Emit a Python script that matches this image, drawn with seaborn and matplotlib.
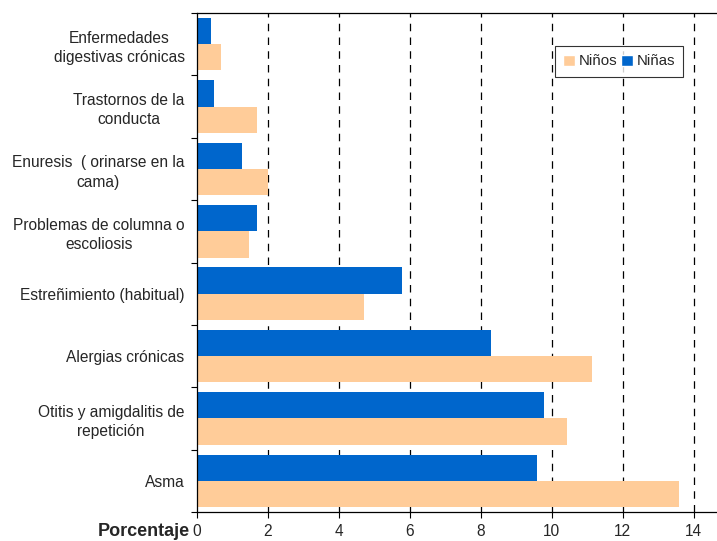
import pandas as pd
import numpy as np
import matplotlib
matplotlib.use("Agg")
import matplotlib.pyplot as plt
from matplotlib.patches import Patch
import seaborn as sns

# data (percent)
categorias = ["Enfermedades\ndigestivas crónicas",
              "Trastornos de la\nconducta",
              "Enuresis  ( orinarse en la\ncama)",
              "Problemas de columna o\nescoliosis",
              "Estreñimiento (habitual)",
              "Alergias crónicas",
              "Otitis y amigdalitis de\nrepetición",
              "Asma"]
ninas = [0.40, 0.49, 1.28, 1.70, 5.79, 8.30, 9.79, 9.58]
ninos = [0.68, 1.70, 2.01, 1.47, 4.72, 11.14, 10.43, 13.59]
xticks = [0, 2, 4, 6, 8, 10, 12, 14]

azul = "#0066CC"
melocoton = "#FFCC99"

df = pd.DataFrame({
    "cat": categorias * 2,
    "valor": ninas + ninos,
    "sexo": ["Niñas"] * len(ninas) + ["Niños"] * len(ninos),
})

sns.set_theme(style="white")
plt.rcParams['font.family'] = ['Liberation Sans', 'DejaVu Sans']
fs = 11.2

fig = plt.figure(figsize=(7.17, 5.41), dpi=100)
ax = fig.add_axes([197/717, 1 - 512/541, 1 - 197/717, (512 - 13)/541])

sns.barplot(data=df, y="cat", x="valor", hue="sexo", hue_order=["Niñas", "Niños"],
            palette={"Niñas": azul, "Niños": melocoton}, orient="h",
            width=0.84, gap=0, saturation=1, linewidth=0, ax=ax, legend=False)

ax.set_xlim(0, 14.66)
ax.set_ylim(7.5, -0.5)
for x in xticks[1:]:
    ax.axvline(x, color="black", linestyle=(0, (6, 5)), linewidth=0.9, zorder=0)

ax.set_xticks(xticks)
ax.set_xticklabels([str(v) for v in xticks], fontsize=fs)
ax.tick_params(axis="x", direction="out", length=4, width=0.8, color="black", bottom=True, pad=5)

ax.set_yticks(range(len(categorias)))
ax.set_yticklabels(categorias, fontsize=fs, multialignment="center", linespacing=1.35)
ax.tick_params(axis="y", which="major", length=0, pad=9)
ax.set_yticks(np.arange(-0.5, len(categorias), 1), minor=True)
ax.tick_params(axis="y", which="minor", direction="out", length=4, width=0.8, color="black", left=True)

ax.set_xlabel("")
ax.set_ylabel("")
for s in ["left", "bottom", "top"]:
    ax.spines[s].set_color("black")
    ax.spines[s].set_linewidth(0.9)
ax.spines["right"].set_visible(False)

fig.text(190/717, 1 - 532/541, "Porcentaje", ha="right", va="center",
         fontsize=13, fontweight="bold")

handles = [Patch(facecolor=melocoton, label="Niños"), Patch(facecolor=azul, label="Niñas")]
leg = ax.legend(handles=handles, ncol=2, loc="upper left",
                bbox_to_anchor=((555 - 197)/520, 1 - (46 - 13)/499),
                frameon=True, fancybox=False, edgecolor="black", fontsize=10.8,
                handlelength=0.75, handleheight=0.75, handletextpad=0.25,
                columnspacing=0.3, borderpad=0.55, borderaxespad=0)
leg.get_frame().set_linewidth(0.8)

fig.savefig("out.png", dpi=100)
